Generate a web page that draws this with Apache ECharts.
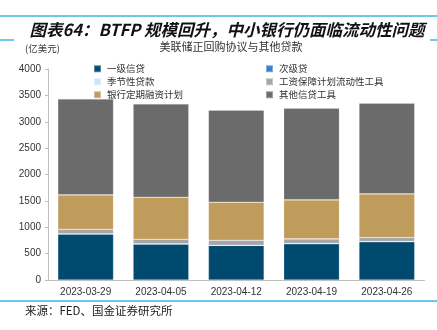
<!DOCTYPE html>
<html><head><meta charset="utf-8">
<script src="https://cdn.jsdelivr.net/npm/echarts@6/dist/echarts.min.js"></script>
<style>html,body{margin:0;padding:0;background:#fff}#c{width:437px;height:330px}</style>
</head><body><div id="c"></div>
<script>
const categories = ['2023-03-29','2023-04-05','2023-04-12','2023-04-19','2023-04-26'];
const primaryCredit = [872, 682, 657, 689, 727];
const secondaryCredit = [0, 0, 0, 0, 0];
const seasonalCredit = [2, 2, 2, 2, 3];
const ppplf = [89, 89, 95, 88, 75];
const btfp = [650, 797, 721, 740, 828];
const otherCredit = [1820, 1768, 1744, 1738, 1720];
const yTicks = [0, 500, 1000, 1500, 2000, 2500, 3000, 3500, 4000];

const names = ['一级信贷','次级贷','季节性贷款','工资保障计划流动性工具','银行定期融资计划','其他信贷工具'];
const colors = ['#004a70','#3a7fcc','#cfe3f4','#a6a6a6','#c09c5c','#6b6b6b'];
const datas = [primaryCredit, secondaryCredit, seasonalCredit, ppplf, btfp, otherCredit];
const font = '"Noto Sans CJK SC", sans-serif';

const chart = echarts.init(document.getElementById('c'), null, {renderer:'canvas'});
chart.setOption({
  animation: false,
  color: colors,
  grid: {left: 48, right: 12.5, top: 69, bottom: 50},
  legend: [
    {data: [names[0], names[2], names[4]], orient: 'vertical', left: 88, top: 59,
     itemWidth: 7, itemHeight: 7, itemGap: 3.5, icon: 'rect',
     textStyle: {fontSize: 9.5, color: '#333', fontFamily: font, padding:[0,0,0,1]}},
    {data: [names[1], names[3], names[5]], orient: 'vertical', left: 260, top: 59,
     itemWidth: 7, itemHeight: 7, itemGap: 3.5, icon: 'rect',
     textStyle: {fontSize: 9.5, color: '#333', fontFamily: font, padding:[0,0,0,1]}}
  ],
  xAxis: {type: 'category', data: categories,
    axisLine: {lineStyle: {color: '#bfbfbf'}}, axisTick: {show: false},
    axisLabel: {fontSize: 10, color: '#333', fontFamily: 'Arial, "Liberation Sans"', margin: 7}},
  yAxis: {type: 'value', min: yTicks[0], max: yTicks[yTicks.length-1], interval: 500,
    axisLine: {show: true, lineStyle: {color: '#bfbfbf'}},
    axisTick: {show: true, length: 3, lineStyle: {color: '#bfbfbf'}},
    splitLine: {show: false},
    axisLabel: {fontSize: 10, color: '#333', fontFamily: 'Arial, "Liberation Sans"', margin: 7,
      formatter: v => String(v)}},
  series: names.map((n, i) => ({
    name: n, type: 'bar', stack: 'total', data: datas[i], barWidth: '74%',
    itemStyle: {color: colors[i], borderColor: 'rgba(255,255,255,0.35)', borderWidth: 0.6}
  })),
  graphic: [
    {type: 'line', shape: {x1: 0, y1: 16, x2: 437, y2: 16}, style: {stroke: '#3cb4e6', lineWidth: 1.5}},
    {type: 'line', shape: {x1: 0, y1: 40, x2: 14, y2: 40}, style: {stroke: '#3cb4e6', lineWidth: 1.5}},
    {type: 'line', shape: {x1: 430, y1: 40, x2: 437, y2: 40}, style: {stroke: '#3cb4e6', lineWidth: 1.5}},
    {type: 'text', x: 227, y: 30, style: {text: '图表64：BTFP 规模回升，中小银行仍面临流动性问题',
      font: 'italic bold 16.5px ' + font, fill: '#111', textAlign: 'center', textVerticalAlign: 'middle'}},
    {type: 'text', x: 25, y: 48, style: {text: '(亿美元)', font: '9.5px ' + font, fill: '#333', textVerticalAlign: 'middle'}},
    {type: 'text', x: 231, y: 47, style: {text: '美联储正回购协议与其他贷款', font: '11px ' + font, fill: '#333', textAlign: 'center', textVerticalAlign: 'middle'}},
    {type: 'line', shape: {x1: 0, y1: 301, x2: 437, y2: 301}, style: {stroke: '#3cb4e6', lineWidth: 1.5}},
    {type: 'text', x: 25, y: 311, style: {text: '来源：FED、国金证券研究所', font: '11.5px ' + font, fill: '#222', textVerticalAlign: 'middle'}}
  ]
});
</script></body></html>
